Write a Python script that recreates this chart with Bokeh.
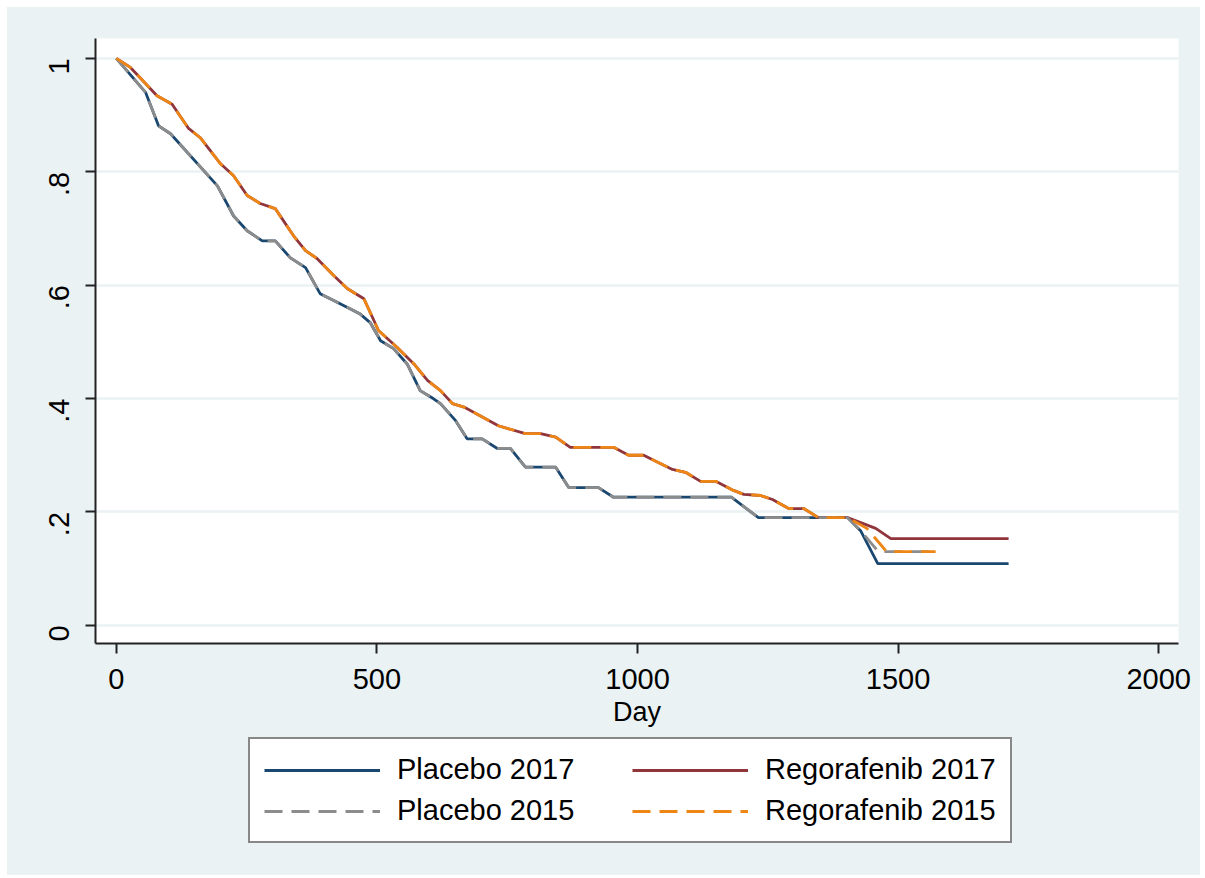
import math
from bokeh.plotting import figure
from bokeh.layouts import column
from bokeh.models import (Range1d, FixedTicker, CustomJSTickFormatter, Legend,
                          LegendItem, ColumnDataSource)
from bokeh.embed import file_html
from bokeh.resources import INLINE

# ---- data ----
placebo_day = [0, 56, 81, 104, 194, 225, 251, 280, 305, 334, 363, 391, 417, 468,
               487, 507, 532, 558, 583, 608, 622, 651, 673, 702, 731, 756, 785,
               843, 868, 925, 954, 1180, 1232, 1403]
placebo_surv = [1.0, 0.940, 0.881, 0.867, 0.775, 0.722, 0.696, 0.678, 0.678, 0.648,
                0.631, 0.585, 0.573, 0.549, 0.534, 0.502, 0.488, 0.461, 0.414, 0.400,
                0.391, 0.361, 0.329, 0.329, 0.312, 0.312, 0.279, 0.279, 0.243, 0.243,
                0.226, 0.226, 0.190, 0.190]
placebo2017_tail_day = [1428, 1461, 1712]
placebo2017_tail_surv = [0.167, 0.109, 0.109]
placebo2015_tail_day = [1428, 1462, 1572]
placebo2015_tail_surv = [0.167, 0.130, 0.130]

rego_day = [0, 27, 78, 107, 138, 161, 200, 225, 251, 276, 305, 340, 363, 385, 417,
            443, 475, 503, 539, 571, 597, 622, 645, 667, 733, 785, 814, 843, 871,
            954, 983, 1012, 1031, 1067, 1092, 1121, 1150, 1184, 1204, 1236, 1259,
            1290, 1319, 1347, 1403]
rego_surv = [1.0, 0.984, 0.934, 0.919, 0.877, 0.860, 0.814, 0.793, 0.758, 0.744,
             0.735, 0.687, 0.661, 0.647, 0.617, 0.594, 0.576, 0.520, 0.490, 0.461,
             0.432, 0.414, 0.391, 0.385, 0.352, 0.338, 0.338, 0.332, 0.314, 0.314,
             0.300, 0.300, 0.291, 0.275, 0.270, 0.254, 0.254, 0.238, 0.231, 0.229,
             0.222, 0.206, 0.206, 0.190, 0.190]
rego2017_tail_day = [1457, 1486, 1712]
rego2017_tail_surv = [0.171, 0.153, 0.153]
rego2015_tail_day = [1440, 1478, 1572]
rego2015_tail_surv = [0.171, 0.130, 0.130]

series_names = ["Placebo 2017", "Regorafenib 2017", "Placebo 2015", "Regorafenib 2015"]
series_colors = ["#1A476F", "#90353B", "#8C8C8C", "#EE8616"]
y_ticks = [0, 0.2, 0.4, 0.6, 0.8, 1.0]
x_ticks = [0, 500, 1000, 1500, 2000]

BG = "#EAF2F3"
FONT = "Liberation Sans"
LW = 2.8
DASH = "18 9"

p = figure(width=1193, height=728, output_backend="svg", toolbar_location=None,
           x_range=Range1d(-40, 2038), y_range=Range1d(-0.032, 1.035),
           min_border_left=88, min_border_top=31, min_border_right=22,
           min_border_bottom=92)
p.background_fill_color = "white"
p.border_fill_color = BG
p.outline_line_color = None

for ax in (p.xaxis[0], p.yaxis[0]):
    ax.axis_line_color = "#222222"
    ax.axis_line_width = 2
    ax.major_tick_line_color = "#222222"
    ax.major_tick_line_width = 2
    ax.major_tick_out = 10
    ax.major_tick_in = 0
    ax.minor_tick_line_color = None
    ax.major_label_text_font = FONT
    ax.major_label_text_font_size = "29px"
    ax.major_label_text_color = "black"
    ax.axis_label_text_font = FONT
    ax.axis_label_text_font_style = "normal"
    ax.axis_label_text_color = "black"

p.xaxis.ticker = FixedTicker(ticks=x_ticks)
p.yaxis.ticker = FixedTicker(ticks=y_ticks)
p.xaxis.axis_label = "Day"
p.xaxis.axis_label_text_font_size = "27px"
p.xaxis.axis_label_standoff = 5
p.xaxis.major_label_standoff = 15
p.yaxis.major_label_orientation = math.pi / 2
p.yaxis.major_label_standoff = 26
p.yaxis.formatter = CustomJSTickFormatter(code="""
    if (Math.abs(tick) < 1e-9) return "0";
    if (Math.abs(tick - 1) < 1e-9) return "1";
    return tick.toFixed(1).replace(/^0/, "");
""")

p.xgrid.grid_line_color = None
p.ygrid.grid_line_color = BG
p.ygrid.grid_line_width = 2.5

sources = [
    ColumnDataSource(dict(x=placebo_day + placebo2017_tail_day,
                          y=placebo_surv + placebo2017_tail_surv)),
    ColumnDataSource(dict(x=rego_day + rego2017_tail_day,
                          y=rego_surv + rego2017_tail_surv)),
    ColumnDataSource(dict(x=placebo_day + placebo2015_tail_day,
                          y=placebo_surv + placebo2015_tail_surv)),
    ColumnDataSource(dict(x=rego_day + rego2015_tail_day,
                          y=rego_surv + rego2015_tail_surv)),
]
dashes = ["solid", "solid", DASH, DASH]
for src, col, dash in zip(sources, series_colors, dashes):
    p.line("x", "y", source=src, line_color=col, line_width=LW, line_dash=dash)

# ---- legend panel (separate figure below the chart) ----
q = figure(width=1193, height=140, output_backend="svg", toolbar_location=None,
           x_range=Range1d(0, 1), y_range=Range1d(0, 1),
           x_axis_type=None, y_axis_type=None, min_border=0)
q.background_fill_color = BG
q.border_fill_color = BG
q.outline_line_color = None
q.xgrid.grid_line_color = None
q.ygrid.grid_line_color = None

items = []
for name, col, dash in zip(series_names, series_colors, dashes):
    # off-screen stand-in renderers so the legend can draw each line style
    r = q.line(x=[-5, -4], y=[-5, -4], line_color=col, line_width=LW, line_dash=dash)
    items.append(LegendItem(label=name, renderers=[r]))

legend = Legend(items=items, orientation="horizontal", ncols=2, location=(153, 32))
legend.label_text_font = FONT
legend.label_text_font_size = "29px"
legend.label_text_color = "black"
legend.glyph_width = 116
legend.glyph_height = 30
legend.label_height = 30
legend.label_width = 227
legend.label_standoff = 17
legend.spacing = 8
legend.padding = 14
legend.margin = 0
legend.border_line_color = "#111111"
legend.border_line_width = 2
legend.background_fill_color = "white"
legend.background_fill_alpha = 1
q.add_layout(legend, "center")

layout = column(p, q, spacing=0, margin=(7, 0, 0, 7),
                styles={"background-color": BG})
open("out.html", "w").write(file_html(layout, INLINE))
